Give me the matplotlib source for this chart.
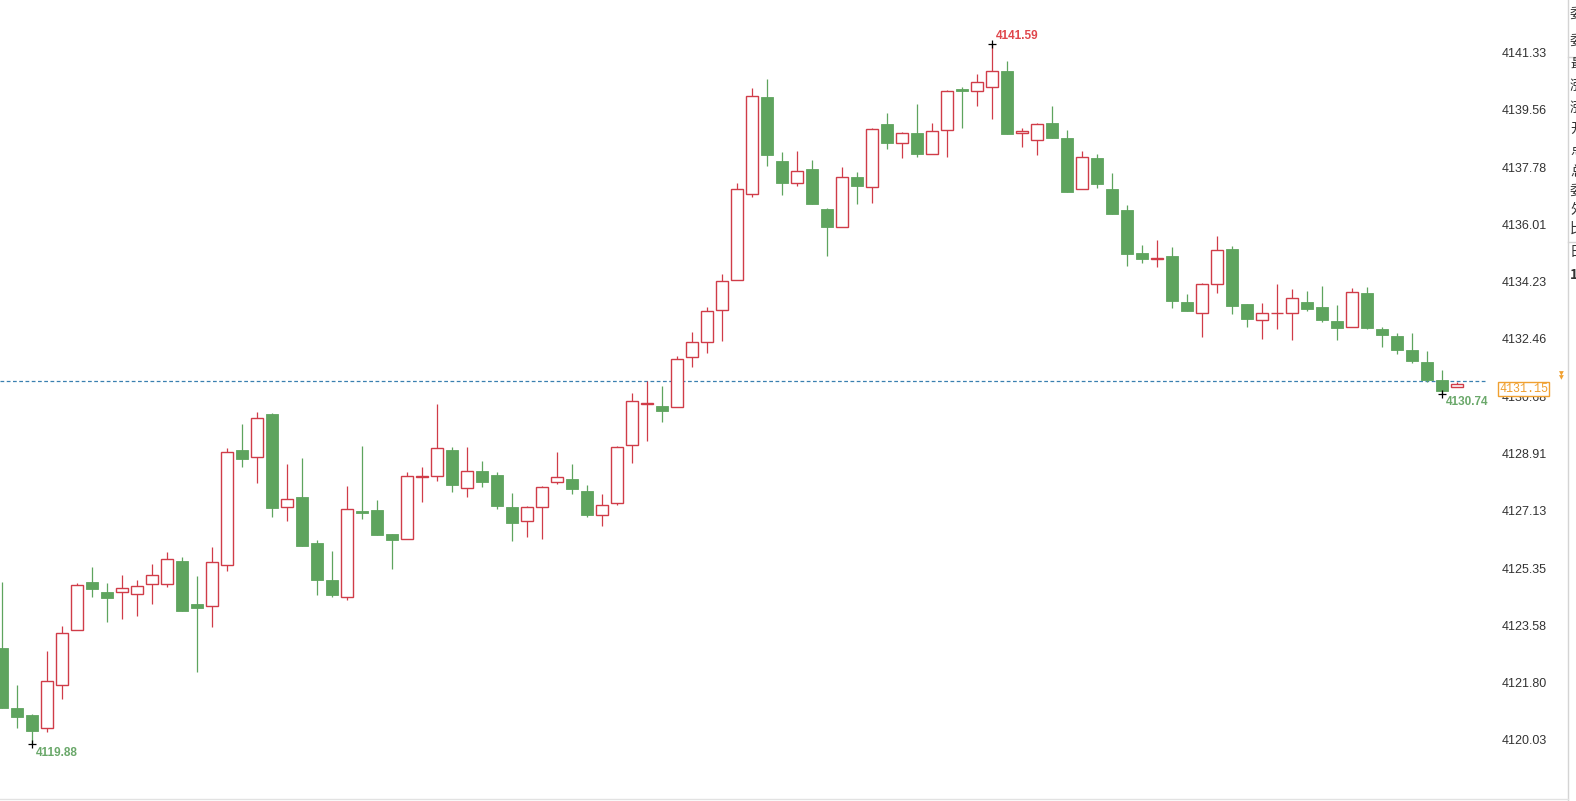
import numpy as np
import matplotlib
matplotlib.use("Agg")
import matplotlib.pyplot as plt
from matplotlib.patches import Rectangle
from matplotlib.lines import Line2D

# one-minute style bars
opens = [4122.86, 4121.00, 4120.79, 4120.38, 4121.71, 4123.42, 4124.92, 4124.61, 4124.62, 4124.56,
         4124.84, 4124.84, 4125.57, 4124.23, 4124.18, 4125.43, 4129.01, 4128.78, 4130.12, 4127.23,
         4127.54, 4126.12, 4124.98, 4124.46, 4127.12, 4127.15, 4126.40, 4126.24, 4128.17, 4128.21,
         4129.01, 4127.82, 4128.36, 4128.23, 4127.23, 4126.80, 4127.23, 4128.01, 4128.11, 4127.74,
         4126.98, 4127.38, 4129.15, 4130.43, 4130.37, 4130.33, 4131.88, 4132.37, 4133.34, 4134.27,
         4136.93, 4139.94, 4137.97, 4137.27, 4137.72, 4136.48, 4135.91, 4137.47, 4137.15, 4139.11,
         4138.51, 4138.85, 4138.17, 4138.93, 4140.19, 4140.15, 4140.25, 4140.76, 4138.82, 4138.62,
         4139.13, 4138.67, 4137.09, 4138.05, 4137.09, 4136.45, 4135.10, 4134.92, 4135.02, 4133.59,
         4133.24, 4134.14, 4135.24, 4133.53, 4133.03, 4133.25, 4133.25, 4133.59, 4133.44, 4133.00,
         4132.81, 4133.86, 4132.76, 4132.54, 4132.11, 4131.74, 4131.18, 4130.95]
highs = [4124.91, 4121.72, 4120.82, 4122.78, 4123.55, 4124.87, 4125.39, 4124.90, 4125.13, 4124.98,
         4125.47, 4125.84, 4125.70, 4125.10, 4126.01, 4129.06, 4129.81, 4130.19, 4130.16, 4128.57,
         4128.75, 4126.22, 4125.89, 4127.89, 4129.14, 4127.46, 4126.40, 4128.33, 4128.47, 4130.43,
         4129.11, 4129.09, 4128.67, 4128.32, 4127.67, 4127.27, 4127.89, 4128.96, 4128.57, 4127.92,
         4127.64, 4129.13, 4130.77, 4131.15, 4130.99, 4131.92, 4132.66, 4133.45, 4134.45, 4137.29,
         4140.22, 4140.51, 4138.25, 4138.29, 4138.00, 4136.51, 4137.79, 4137.64, 4138.98, 4139.47,
         4138.87, 4139.73, 4139.13, 4140.17, 4140.25, 4140.65, 4141.59, 4141.07, 4138.98, 4139.13,
         4139.67, 4138.93, 4138.29, 4138.18, 4137.58, 4136.60, 4135.36, 4135.52, 4135.29, 4133.84,
         4134.17, 4135.64, 4135.33, 4133.53, 4133.55, 4134.15, 4133.99, 4133.95, 4134.10, 4133.50,
         4134.04, 4134.07, 4132.81, 4132.62, 4132.64, 4132.09, 4131.49, 4131.11]
lows = [4121.00, 4120.38, 4119.88, 4120.28, 4121.29, 4123.42, 4124.46, 4123.69, 4123.77, 4123.86,
        4124.25, 4124.77, 4124.01, 4122.14, 4123.53, 4125.27, 4128.49, 4127.98, 4126.94, 4126.82,
        4126.02, 4124.51, 4124.46, 4124.36, 4126.86, 4126.37, 4125.32, 4126.24, 4127.40, 4128.06,
        4127.72, 4127.56, 4127.87, 4127.18, 4126.20, 4126.32, 4126.26, 4127.95, 4127.65, 4126.94,
        4126.65, 4127.30, 4128.62, 4129.30, 4129.89, 4130.33, 4131.59, 4132.00, 4132.40, 4134.27,
        4136.84, 4137.82, 4136.92, 4137.20, 4136.64, 4135.03, 4135.91, 4136.64, 4136.65, 4138.34,
        4138.05, 4138.10, 4138.17, 4138.10, 4139.00, 4139.68, 4139.26, 4138.79, 4138.39, 4138.14,
        4138.67, 4137.02, 4137.09, 4137.12, 4136.31, 4134.71, 4134.79, 4134.67, 4133.40, 4133.33,
        4132.52, 4133.89, 4133.21, 4132.83, 4132.45, 4132.76, 4132.42, 4133.33, 4132.98, 4132.42,
        4132.81, 4132.75, 4132.21, 4131.97, 4131.72, 4131.13, 4130.74, 4130.95]
closes = [4121.02, 4120.74, 4120.31, 4121.84, 4123.33, 4124.81, 4124.69, 4124.43, 4124.72, 4124.78,
          4125.12, 4125.62, 4124.03, 4124.12, 4125.53, 4128.95, 4128.72, 4129.99, 4127.22, 4127.48,
          4126.04, 4124.98, 4124.51, 4127.17, 4127.07, 4126.37, 4126.22, 4128.20, 4128.20, 4129.06,
          4127.92, 4128.36, 4128.03, 4127.28, 4126.74, 4127.23, 4127.85, 4128.16, 4127.81, 4126.99,
          4127.29, 4129.09, 4130.52, 4130.48, 4130.23, 4131.82, 4132.35, 4133.32, 4134.24, 4137.09,
          4139.98, 4138.16, 4137.29, 4137.65, 4136.64, 4135.93, 4137.46, 4137.20, 4138.96, 4138.51,
          4138.82, 4138.19, 4138.90, 4140.14, 4140.15, 4140.43, 4140.77, 4138.79, 4138.91, 4139.10,
          4138.67, 4137.02, 4138.10, 4137.25, 4136.31, 4135.07, 4134.92, 4134.95, 4133.64, 4133.33,
          4134.14, 4135.21, 4133.48, 4133.06, 4133.24, 4133.27, 4133.71, 4133.38, 4133.05, 4132.80,
          4133.90, 4132.80, 4132.57, 4132.11, 4131.78, 4131.18, 4130.85, 4131.04]

price_ticks = [4120.03, 4121.80, 4123.58, 4125.35, 4127.13, 4128.91, 4130.68,
               4132.46, 4134.23, 4136.01, 4137.78, 4139.56, 4141.33]
last_price = 4131.15
side_labels = ["委", "委", "最", "涨", "涨", "开", "点", "总", "委", "外", "比", "日", "1"]

UP = "#d03c48"
DOWN = "#5ea45e"
ORANGE = "#f0a030"

W, H = 1576, 801
fig = plt.figure(figsize=(W / 100, H / 100), dpi=100)
fig.patch.set_facecolor("white")

# plot area: 15 px per bar, 32.26 px per point
ax = fig.add_axes([0, 2 / H, 1488 / W, 799 / H])
n = len(opens)
ax.set_xlim(-2 / 15, 1486 / 15)
ytop = price_ticks[-1] + 52.5 / 32.26
ax.set_ylim(ytop - 799 / 32.26, ytop)
for s in ax.spines.values():
    s.set_visible(False)
ax.set_xticks([])

bw = 0.83
for i in range(n):
    o, h, l, c = opens[i], highs[i], lows[i], closes[i]
    if c >= o:
        ax.vlines(i, l, h, color=UP, lw=0.9, zorder=2)
        ax.add_patch(Rectangle((i - bw / 2, o), bw, max(c - o, 0.01), facecolor="white",
                               edgecolor=UP, lw=1.0, zorder=3))
    else:
        ax.vlines(i, l, h, color=DOWN, lw=0.9, zorder=2)
        ax.add_patch(Rectangle((i - bw / 2, c), bw, max(o - c, 0.03), facecolor=DOWN,
                               edgecolor=DOWN, lw=0.6, zorder=3))

# current price line
ax.axhline(last_price, color="#3a80b0", lw=0.9, ls=(0, (3, 2)), zorder=1)

# high / low marks
hi = int(np.argmax(highs))
lo = int(np.argmin(lows))
recent = n - 10 + int(np.argmin(lows[-10:]))
for idx, val, col, dy in [(hi, highs[hi], "#e0474c", 8), (lo, lows[lo], "#6aa86a", -9),
                          (recent, lows[recent], "#6aa86a", -8)]:
    ax.plot(idx, val, marker="+", color="black", ms=6, mew=0.9, zorder=5)
    ax.annotate(f"{val:.2f}", (idx, val), xytext=(4, dy), textcoords="offset pixels",
                color=col, fontsize=8.5, fontweight="bold", family="Liberation Sans",
                va="center", ha="left", zorder=6)

# price axis on the right
ax.yaxis.tick_right()
ax.set_yticks(price_ticks)
ax.set_yticklabels([f"{t:.2f}" for t in price_ticks])
ax.tick_params(axis="y", length=0, pad=9.5, labelsize=9, labelcolor="#333333")
for lab in ax.get_yticklabels():
    lab.set_family("Liberation Sans")

# last price box
fig.text(1499 / W, 1 - 389 / H, f"{last_price:.2f}", color=ORANGE, fontsize=8.5,
         family="Liberation Mono", va="center", ha="left", zorder=10,
         bbox=dict(boxstyle="square,pad=0.12", facecolor="white", edgecolor=ORANGE, lw=1))
fig.text(1561 / W, 1 - 374 / H, "▼", color=ORANGE, fontsize=4.5, ha="center", va="center")
fig.text(1561 / W, 1 - 378 / H, "▼", color=ORANGE, fontsize=4.5, ha="center", va="center")

# frame lines of the side panel
fig.add_artist(Line2D([1568 / W, 1568 / W], [0, 1], color="#d4d4d4", lw=1))
fig.add_artist(Line2D([0, 1568 / W], [1 - 799 / H, 1 - 799 / H], color="#e2e2e2", lw=1))
fig.add_artist(Line2D([1568 / W, 1], [1 - 57 / H, 1 - 57 / H], color="#d4d4d4", lw=1))
fig.add_artist(Line2D([1568 / W, 1], [1 - 242 / H, 1 - 242 / H], color="#d4d4d4", lw=1))

side_y = [15, 42, 64, 86, 108, 129, 150, 172, 192, 210, 229, 252, 275]
for txt, yy in zip(side_labels, side_y):
    fig.text(1570 / W, 1 - yy / H, txt, fontsize=10, color="#333333",
             family=["Noto Sans CJK SC", "DejaVu Sans"], va="center", ha="left",
             fontweight="bold" if txt == "1" else "normal")

fig.savefig("out.png", dpi=100, facecolor="white")
